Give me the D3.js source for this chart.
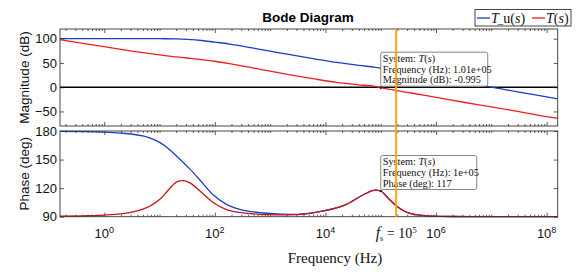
<!DOCTYPE html>
<html><head><meta charset="utf-8">
<script src="https://cdn.jsdelivr.net/npm/d3@7"></script>
<style>
html,body{margin:0;padding:0;background:#fff;}
svg{display:block;}
text{font-family:"Liberation Sans",Arial,sans-serif;}
.serif{font-family:"Liberation Serif","Times New Roman",serif;}
</style></head>
<body><svg id="c" width="578" height="276"></svg>
<script>
// ---- data (log10 of frequency in Hz) ----
const magLogF   = [-0.8,-0.5,0,0.5,0.9,1.1,1.3,1.5,1.8,2.0,2.27,2.7,3.0,3.36,3.8,4.2,4.6,4.9,5.0,5.3,5.6,6.0,6.5,7.0,7.5,8.0,8.2];
const magTu     = [100,100,100,100,100,99.9,99.5,98.6,95.8,93,89,80.5,74.5,67,58.5,51,45,41,39.5,34,28,20,10,0,-10,-20,-24];
const magT      = [98,92.5,83.5,74.5,68,65,62.5,60.2,56.5,53.5,48.5,39.5,33,25.5,17,10,5,1.5,-1,-7,-13,-21,-31,-40.5,-50.5,-60.5,-64];

const phLogF    = [-0.8,-0.3,0,0.3,0.52,0.7,0.82,0.92,1.0,1.13,1.22,1.32,1.42,1.55,1.73,1.97,2.21,2.45,2.7,2.94,3.2,3.5,3.96,4.38,4.68,4.9,5.0,5.11,5.29,5.53,5.9,6.3,7,8.2];
const phTu      = [179.6,179.3,178.8,177.8,176.6,174.8,172.8,170.5,168,163,158.5,153,147.5,140,128.5,113,103,97.8,95,93.6,92.8,92.5,96,103,112.8,118,117,111,101,93.5,90.7,90.2,90.1,90];
const phT       = [90.5,91,91.7,93,95,98,101,104.5,108,116,122,126.8,127.8,125.5,117,105,97.5,94.5,93,92.2,92,92.2,96,103,112.8,118,117,111,101,93.5,90.7,90.2,90.1,90];

const magTicks  = [-50,0,50,100];
const phTicks   = [90,120,150,180];
const decadeLabels = [0,2,4,6,8];
const fsLineFreq = 1.9e5;       // the orange f_s marker as drawn
const tip1 = {f:1e5, v:-0.995, lines:["Frequency (Hz): 1.01e+05","Magnitude (dB): -0.995"]};
const tip2 = {f:1e5, v:117, lines:["Frequency (Hz): 1e+05","Phase (deg): 117"]};

// ---- layout ----
const svg = d3.select("#c");
const L=60, R=557.7;
const P1={top:29,bottom:126}, P2={top:131,bottom:216.7};
const x = d3.scaleLog().domain([10**-0.8,10**8.2]).range([L,R]);
const yM = d3.scaleLinear().domain([-80,120]).range([P1.bottom,P1.top]);
const yP = d3.scaleLinear().domain([90,180]).range([P2.bottom,P2.top]);
const blue="#1a3fc4", red="#f01e1e", axisCol="#333";

const minorT=[], majorT=[];
for(let d=-1; d<=8; d++){
  for(let m=1;m<=9;m++){
    const v=m*10**d;
    if(v<x.domain()[0]||v>x.domain()[1]) continue;
    if(m===1 && d%2===0) majorT.push(v); else minorT.push(v);
  }
}

function panel(P, yS, yTicks){
  const g=svg.append("g");
  g.append("rect").attr("x",L).attr("y",P.top).attr("width",R-L).attr("height",P.bottom-P.top)
   .attr("fill","#fff").attr("stroke","none");
  const ax=[
    [d3.axisTop(x).tickValues(minorT).tickSize(-2), P.top],
    [d3.axisTop(x).tickValues(majorT).tickSize(-4), P.top],
    [d3.axisBottom(x).tickValues(minorT).tickSize(-2), P.bottom],
    [d3.axisBottom(x).tickValues(majorT).tickSize(-4), P.bottom]];
  ax.forEach(([a,yy])=>{
    const s=g.append("g").attr("transform",`translate(0,${yy})`).call(a.tickFormat(""));
    s.select(".domain").remove();
    s.selectAll("line").attr("stroke",axisCol).attr("stroke-width",0.8);
  });
  const yl=g.append("g").attr("transform",`translate(${L},0)`)
    .call(d3.axisLeft(yS).tickValues(yTicks).tickSize(-4).tickPadding(3));
  yl.select(".domain").remove();
  yl.selectAll("line").attr("stroke",axisCol).attr("stroke-width",0.8);
  yl.selectAll("text").attr("font-size",13).attr("fill","#111").attr("font-family","Liberation Sans, Arial, sans-serif");
  const yr=g.append("g").attr("transform",`translate(${R},0)`)
    .call(d3.axisRight(yS).tickValues(yTicks).tickSize(-4).tickFormat(""));
  yr.select(".domain").remove();
  yr.selectAll("line").attr("stroke",axisCol).attr("stroke-width",0.8);
  return g;
}
const g1=panel(P1,yM,magTicks);
const g2=panel(P2,yP,phTicks);

// zero-dB line
g1.append("line").attr("x1",L).attr("x2",R).attr("y1",yM(0)).attr("y2",yM(0))
  .attr("stroke","#000").attr("stroke-width",1.6);

const lineM=d3.line().x((d,i)=>x(10**magLogF[i])).y(d=>yM(d)).curve(d3.curveMonotoneX);
const lineP=d3.line().x((d,i)=>x(10**phLogF[i])).y(d=>yP(d)).curve(d3.curveMonotoneX);
g1.append("path").attr("d",lineM(magTu)).attr("fill","none").attr("stroke",blue).attr("stroke-width",1.3);
g1.append("path").attr("d",lineM(magT)).attr("fill","none").attr("stroke",red).attr("stroke-width",1.3);
g2.append("path").attr("d",lineP(phTu)).attr("fill","none").attr("stroke",blue).attr("stroke-width",1.3);
g2.append("path").attr("d",lineP(phT)).attr("fill","none").attr("stroke","#c81515").attr("stroke-width",1.3);

// frames
[P1,P2].forEach(P=>svg.append("rect").attr("x",L).attr("y",P.top).attr("width",R-L).attr("height",P.bottom-P.top)
  .attr("fill","none").attr("stroke",axisCol).attr("stroke-width",0.9));

// data tips
function tip(f, v, yS, lines, w){
  const x0=x(f), y0=yS(v);
  const h=34;
  const g=svg.append("g");
  g.append("rect").attr("x",x0).attr("y",y0-h-1.5).attr("width",w).attr("height",h).attr("rx",2)
    .attr("fill","#fff").attr("stroke","#777").attr("stroke-width",0.9);
  const t=g.append("text").attr("class","serif").attr("font-size",10.3).attr("fill","#111")
    .attr("x",x0+2).attr("y",y0-h+8.5);
  t.append("tspan").text("System: ");
  t.append("tspan").attr("font-style","italic").text("T");
  t.append("tspan").text("(");
  t.append("tspan").attr("font-style","italic").text("s");
  t.append("tspan").text(")");
  lines.forEach((s,i)=>g.append("text").attr("class","serif").attr("font-size",10.3).attr("fill","#111")
    .attr("x",x0+2).attr("y",y0-h+8.5+(i+1)*10.6).text(s));
  g.append("circle").attr("cx",x0).attr("cy",y0).attr("r",1.2).attr("fill","#222");
}
tip(tip1.f,tip1.v,yM,tip1.lines,107);
tip(tip2.f,tip2.v,yP,tip2.lines,96);

// orange f_s line
svg.append("line").attr("x1",x(fsLineFreq)).attr("x2",x(fsLineFreq)).attr("y1",P1.top).attr("y2",P2.bottom)
  .attr("stroke","#ffa500").attr("stroke-width",2);

// x tick labels
const labY=238;
decadeLabels.forEach(e=>{
  const t=svg.append("text").attr("x",x(10**e)).attr("y",labY).attr("text-anchor","middle")
    .attr("font-size",13).attr("fill","#111");
  t.append("tspan").text("10");
  t.append("tspan").attr("font-size",9).attr("dy",-5).text(String(e));
});
// f_s label
{
  const t=svg.append("text").attr("class","serif").attr("x",x(fsLineFreq)).attr("y",labY)
    .attr("text-anchor","middle").attr("font-size",14).attr("fill","#111");
  t.append("tspan").attr("font-style","italic").attr("font-size",16).text("f");
  t.append("tspan").attr("font-size",8).attr("dy",3).text("s");
  t.append("tspan").attr("dy",-3).text(" = 10");
  t.append("tspan").attr("font-size",9).attr("dy",-5).text("5");
}

// axis titles
svg.append("text").attr("transform",`translate(29,${(P1.top+P1.bottom)/2}) rotate(-90)`)
  .attr("text-anchor","middle").attr("font-size",13.5).attr("fill","#111").text("Magnitude (dB)");
svg.append("text").attr("transform",`translate(29,${(P2.top+P2.bottom)/2}) rotate(-90)`)
  .attr("text-anchor","middle").attr("font-size",13.5).attr("fill","#111").text("Phase (deg)");
svg.append("text").attr("class","serif").attr("x",335).attr("y",263).attr("text-anchor","middle")
  .attr("font-size",15).attr("fill","#111").text("Frequency (Hz)");
svg.append("text").attr("x",308).attr("y",22).attr("text-anchor","middle")
  .attr("font-size",13.5).attr("font-weight","bold").attr("fill","#000").text("Bode Diagram");

// legend
{
  const g=svg.append("g");
  g.append("rect").attr("x",475).attr("y",9.5).attr("width",96).attr("height",16.5)
    .attr("fill","#fff").attr("stroke","#333").attr("stroke-width",0.9);
  const items=[{c:blue,x:477,parts:[["T","italic"],["_","normal"],["u","normal"],["(","normal"],["s","italic"],[")","normal"]]},
               {c:red,x:532,parts:[["T","italic"],["(","normal"],["s","italic"],[")","normal"]]}];
  items.forEach(it=>{
    g.append("line").attr("x1",it.x).attr("x2",it.x+13).attr("y1",18).attr("y2",18).attr("stroke",it.c).attr("stroke-width",1.3);
    const t=g.append("text").attr("class","serif").attr("x",it.x+14).attr("y",22.5).attr("font-size",14).attr("fill","#111");
    it.parts.forEach(([s,st])=>{
      const sp=t.append("tspan").attr("font-style",st).text(s);
      if(s==="_") sp.attr("dx",-1).attr("font-size",11);
    });
  });
}
</script></body></html>
